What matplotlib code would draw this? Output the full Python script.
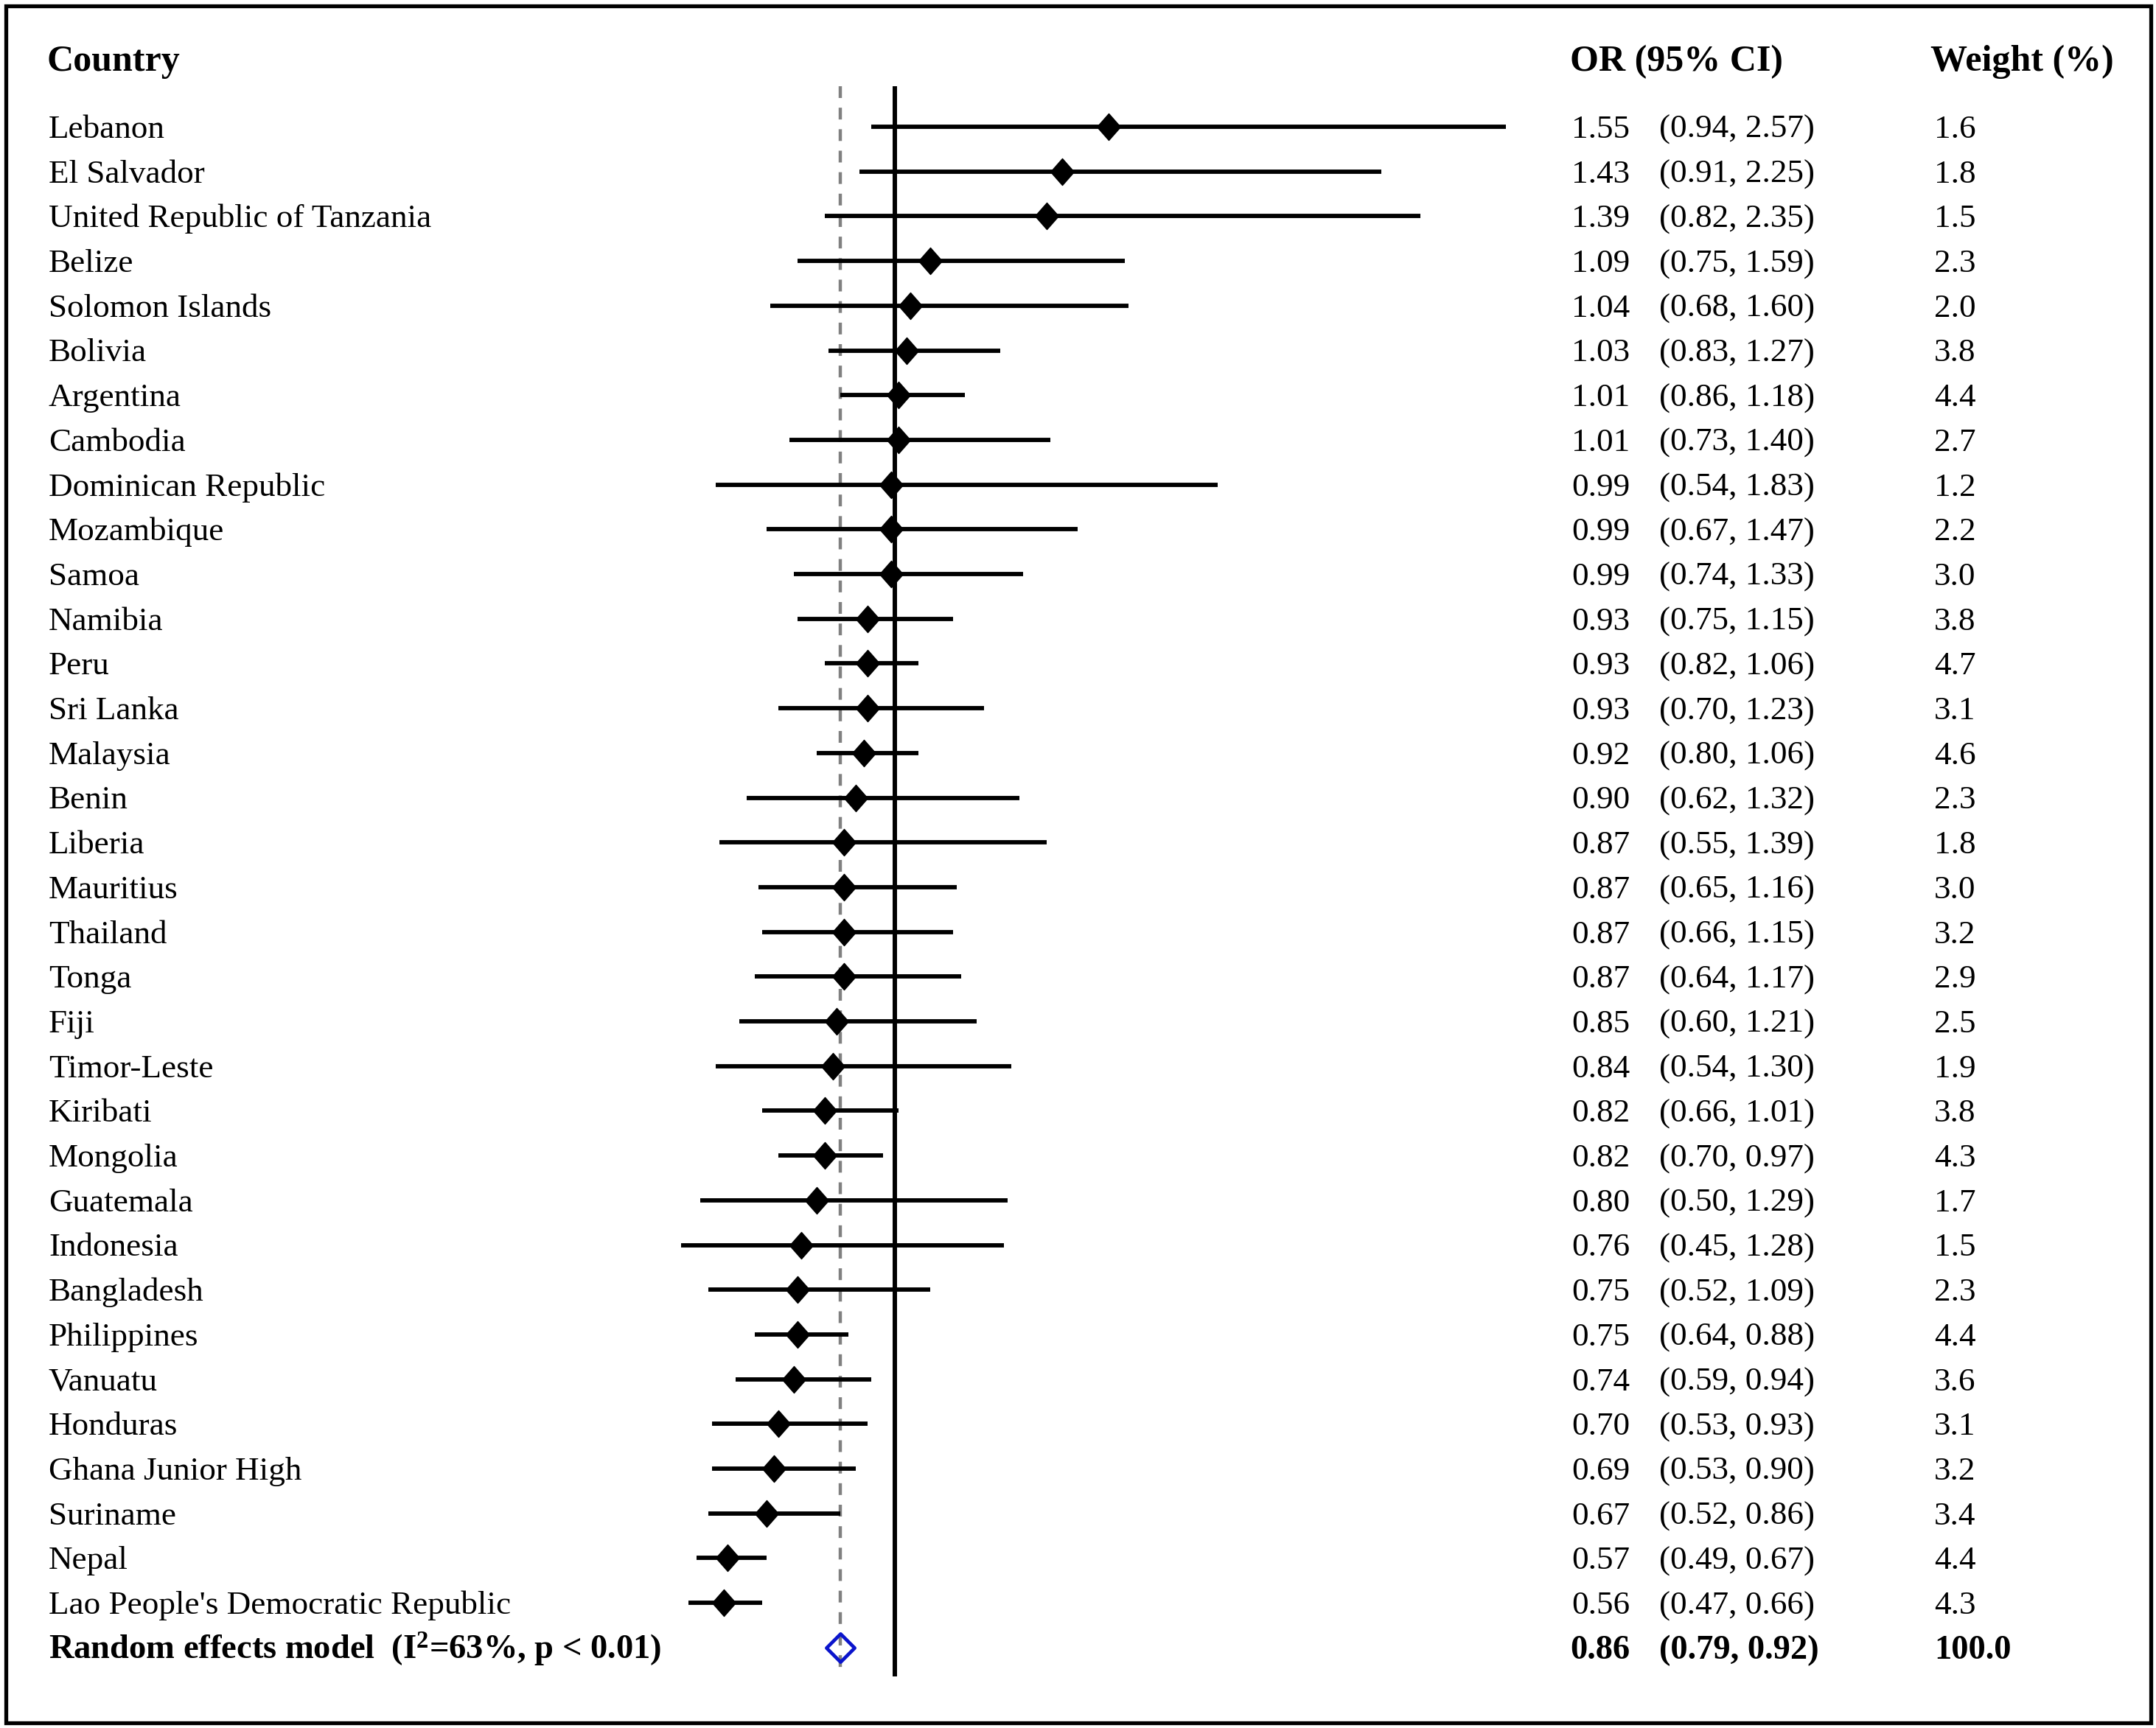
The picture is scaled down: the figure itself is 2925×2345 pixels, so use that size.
import numpy as np
import matplotlib
matplotlib.use("Agg")
import matplotlib.pyplot as plt
from matplotlib.path import Path
from matplotlib.patches import Rectangle

plt.rcParams['mathtext.fontset'] = 'custom'
plt.rcParams['mathtext.rm'] = 'Liberation Serif:bold'
plt.rcParams['mathtext.bf'] = 'Liberation Serif:bold'
plt.rcParams['lines.scale_dashes'] = False

# ---------------- data ----------------
countries = ["Lebanon", "El Salvador", "United Republic of Tanzania", "Belize",
             "Solomon Islands", "Bolivia", "Argentina", "Cambodia",
             "Dominican Republic", "Mozambique", "Samoa", "Namibia", "Peru",
             "Sri Lanka", "Malaysia", "Benin", "Liberia", "Mauritius",
             "Thailand", "Tonga", "Fiji", "Timor-Leste", "Kiribati", "Mongolia",
             "Guatemala", "Indonesia", "Bangladesh", "Philippines", "Vanuatu",
             "Honduras", "Ghana Junior High", "Suriname", "Nepal",
             "Lao People's Democratic Republic"]
odds_ratio = [1.55, 1.43, 1.39, 1.09, 1.04, 1.03, 1.01, 1.01, 0.99, 0.99, 0.99,
              0.93, 0.93, 0.93, 0.92, 0.90, 0.87, 0.87, 0.87, 0.87, 0.85, 0.84,
              0.82, 0.82, 0.80, 0.76, 0.75, 0.75, 0.74, 0.70, 0.69, 0.67, 0.57,
              0.56]
ci_lower = [0.94, 0.91, 0.82, 0.75, 0.68, 0.83, 0.86, 0.73, 0.54, 0.67, 0.74,
            0.75, 0.82, 0.70, 0.80, 0.62, 0.55, 0.65, 0.66, 0.64, 0.60, 0.54,
            0.66, 0.70, 0.50, 0.45, 0.52, 0.64, 0.59, 0.53, 0.53, 0.52, 0.49,
            0.47]
ci_upper = [2.57, 2.25, 2.35, 1.59, 1.60, 1.27, 1.18, 1.40, 1.83, 1.47, 1.33,
            1.15, 1.06, 1.23, 1.06, 1.32, 1.39, 1.16, 1.15, 1.17, 1.21, 1.30,
            1.01, 0.97, 1.29, 1.28, 1.09, 0.88, 0.94, 0.93, 0.90, 0.86, 0.67,
            0.66]
weights = [1.6, 1.8, 1.5, 2.3, 2.0, 3.8, 4.4, 2.7, 1.2, 2.2, 3.0, 3.8, 4.7, 3.1,
           4.6, 2.3, 1.8, 3.0, 3.2, 2.9, 2.5, 1.9, 3.8, 4.3, 1.7, 1.5, 2.3, 4.4,
           3.6, 3.1, 3.2, 3.4, 4.4, 4.3]
summary_label = r"Random effects model  ($\mathbf{I^{2}}$=63%, p < 0.01)"
summary_or = 0.86
summary_lower = 0.79
summary_upper = 0.92
summary_weight = 100.0
headers = ["Country", "OR (95% CI)", "Weight (%)"]

# ---------------- layout ----------------
W, H = 2925, 2345
fig = plt.figure(figsize=(W / 100, H / 100), dpi=100)
ax = fig.add_axes([0, 0, 1, 1])
ax.axis('off')

X_ONE_PX = 1214.0
PX_PER_UNIT = 528.0
ax.set_xlim(1 - X_ONE_PX / PX_PER_UNIT, 1 + (W - X_ONE_PX) / PX_PER_UNIT)
ROW0 = 172.0
ROWH = 60.7
ax.set_ylim((H - ROW0) / ROWH, -ROW0 / ROWH)

n = len(countries)
ys = np.arange(n)
y_sum = n

FONT = 'Liberation Serif'
ROW_FS = 32.5
BOLD_FS = 33.5
HEAD_FS = 36


def base_off(fs):
    # shift so that the cap-height center sits on the row center
    return 0.5 * 0.662 * fs * 100 / 72 / ROWH


line_top = (117 - ROW0) / ROWH
line_bot = (2275 - ROW0) / ROWH

# reference lines
ax.plot([1, 1], [line_top, line_bot], color='black', lw=4.3,
        solid_capstyle='butt', zorder=2)
ax.plot([summary_or, summary_or], [line_top, line_bot], color='#808080',
        lw=3.2, dashes=(11.5, 9.5), dash_capstyle='butt', zorder=1)

# CI lines and point estimates
diamond = Path([(0, 1), (0.88, 0), (0, -1), (-0.88, 0), (0, 1)],
               [Path.MOVETO, Path.LINETO, Path.LINETO, Path.LINETO,
                Path.CLOSEPOLY])
for y, lo, hi in zip(ys, ci_lower, ci_upper):
    ax.plot([lo, hi], [y, y], color='black', lw=4.2, solid_capstyle='butt',
            zorder=3)
ax.plot(odds_ratio, ys, linestyle='none', marker=diamond, ms=26,
        color='black', zorder=4)

# summary diamond
ax.plot([summary_or], [y_sum], linestyle='none',
        marker=Path([(0, 1), (1, 0), (0, -1), (-1, 0), (0, 1)],
                    [Path.MOVETO, Path.LINETO, Path.LINETO, Path.LINETO,
                     Path.CLOSEPOLY]),
        ms=27.5, mfc='none', mec='#0A14CC', mew=3.4, zorder=5)

# text columns (x in figure pixels -> axes fraction)
tr = ax.get_yaxis_transform()  # x axes fraction, y data


def fx(px):
    return px / W


X_NAME = 66
X_OR = 2132
X_CI = 2251
X_WT = 2624
Y_HEAD = -1.52

ax.text(fx(63), Y_HEAD + base_off(HEAD_FS), headers[0], transform=tr,
        fontfamily=FONT, fontweight='bold', fontsize=HEAD_FS, va='baseline')
ax.text(fx(2130), Y_HEAD + base_off(HEAD_FS), headers[1], transform=tr,
        fontfamily=FONT, fontweight='bold', fontsize=HEAD_FS, va='baseline')
ax.text(fx(2619), Y_HEAD + base_off(HEAD_FS), headers[2], transform=tr,
        fontfamily=FONT, fontweight='bold', fontsize=HEAD_FS, va='baseline')

for y, name, o, lo, hi, w in zip(ys, countries, odds_ratio, ci_lower,
                                 ci_upper, weights):
    yb = y + base_off(ROW_FS)
    ax.text(fx(X_NAME), yb, name, transform=tr, fontfamily=FONT,
            fontsize=ROW_FS, va='baseline')
    ax.text(fx(X_OR), yb, f"{o:.2f}", transform=tr, fontfamily=FONT,
            fontsize=ROW_FS, va='baseline')
    ax.text(fx(X_CI), yb, f"({lo:.2f}, {hi:.2f})", transform=tr,
            fontfamily=FONT, fontsize=ROW_FS, va='baseline')
    ax.text(fx(X_WT), yb, f"{w:.1f}", transform=tr, fontfamily=FONT,
            fontsize=ROW_FS, va='baseline')

yb = y_sum + base_off(BOLD_FS)
ax.text(fx(X_NAME), yb, summary_label, transform=tr, fontfamily=FONT,
        fontweight='bold', fontsize=BOLD_FS, va='baseline')
ax.text(fx(2130), yb, f"{summary_or:.2f}", transform=tr, fontfamily=FONT,
        fontweight='bold', fontsize=BOLD_FS, va='baseline')
ax.text(fx(X_CI), yb, f"({summary_lower:.2f}, {summary_upper:.2f})",
        transform=tr, fontfamily=FONT, fontweight='bold', fontsize=BOLD_FS,
        va='baseline')
ax.text(fx(X_WT), yb, f"{summary_weight:.1f}", transform=tr, fontfamily=FONT,
        fontweight='bold', fontsize=BOLD_FS, va='baseline')

# outer frame
fig.patches.append(Rectangle((7.5 / W, 7.5 / H), (W - 15) / W, (H - 15) / H,
                             transform=fig.transFigure, fill=False,
                             edgecolor='black', lw=3.8, zorder=10))

fig.savefig("out.png", dpi=100, facecolor='white')
